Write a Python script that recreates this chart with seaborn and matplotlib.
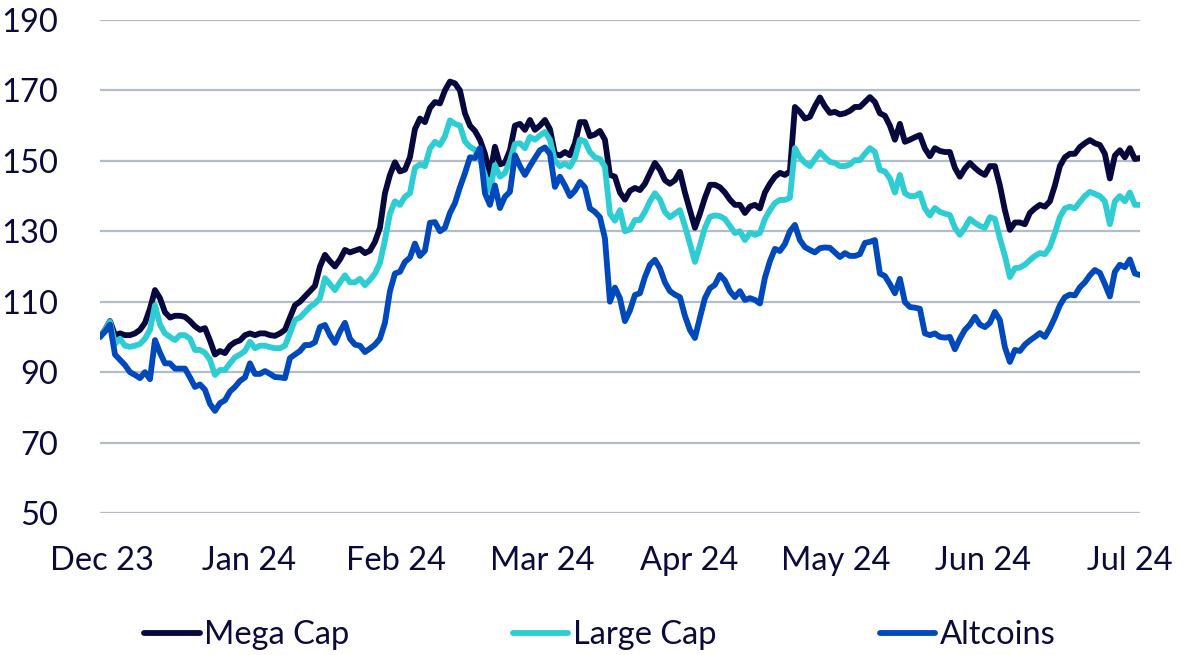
import numpy as np
import pandas as pd
import matplotlib
matplotlib.use("Agg")
import matplotlib.pyplot as plt
import seaborn as sns

# ---------------- data (index = 100 at start) ----------------
mega_cap = [
    100, 102, 104.5, 100.5, 101, 100.5, 100.5, 101, 102, 104,
    108, 113.3, 111, 107, 105.5, 106, 106, 105.7, 104.5, 103,
    102, 102.5, 99, 95, 96, 95.4, 97.5, 98.5, 99, 100.5,
    101, 100.5, 101, 101, 100.5, 100.3, 101, 102, 105.5, 109,
    110, 111.5, 113, 114.5, 120, 123.3, 121.5, 120, 122, 124.7,
    124, 124.5, 125, 123.8, 124.5, 127, 131, 140.8, 146, 149.6,
    147, 147.5, 151, 159, 162, 161, 165, 166.7, 166.3, 170,
    172.5, 172, 170, 163.5, 160, 158.5, 156, 152, 146, 154,
    149, 149.5, 153, 160, 160.5, 158.8, 161.6, 158.8, 160, 161.6,
    159, 152, 151.5, 152.5, 151.6, 155, 161, 161, 157, 157.5,
    158.5, 156, 146, 145.5, 141, 139, 141.5, 142.3, 141.7, 143.5,
    146.5, 149.4, 147.5, 144.5, 143.5, 144.5, 146.9, 141, 136, 131,
    135, 139.5, 143.2, 143.2, 142.5, 141, 139, 137.5, 137.5, 135.2,
    137, 137.5, 136.5, 141, 143.5, 145.5, 146.6, 146, 147, 165.3,
    163.9, 162, 162.5, 165.5, 168, 165.5, 163.6, 163.9, 163.2, 163.5,
    164.2, 165.3, 165.3, 166.7, 168.1, 166.7, 163.5, 162.8, 160, 156,
    160.5, 155.4, 156, 156.7, 157.3, 153.5, 151.3, 153.6, 152.8, 152.5,
    152.5, 148, 145.5, 147.8, 149.4, 148, 146.8, 146, 148.5, 148.5,
    143, 136, 130.4, 132.5, 132.5, 132, 135.2, 136.5, 137.5, 137,
    138.5, 143, 148.5, 151, 152, 152, 153.9, 155, 155.9, 155,
    154.5, 152, 145, 151.5, 153, 151, 153.6, 150.5, 150.8,
]

large_cap = [
    100, 102, 104.3, 98, 99.5, 97.5, 97.2, 97.5, 98, 99.5,
    102, 109, 103.5, 101, 100, 99.1, 100.5, 100.5, 99.5, 96.3,
    96.3, 95.5, 93.5, 89.2, 90.6, 90.6, 92.5, 94.2, 95, 96,
    98.6, 96.8, 97.5, 97.5, 97.1, 96.8, 96.8, 97.5, 101, 104.8,
    105.5, 107, 108.5, 109.5, 111, 116.7, 115, 113.3, 115.5, 117.5,
    115.5, 115.5, 116.5, 114.7, 116.2, 118, 121, 127.5, 135, 138.5,
    137.5, 139.8, 140.8, 148, 149, 148.5, 153.5, 155.4, 154.5, 157,
    161.5, 160.5, 160, 155.5, 154, 153.2, 150.5, 146, 141.5, 148.8,
    145.5, 146.5, 150, 154.8, 155, 153.6, 156.8, 156, 157.2, 158.2,
    156, 150, 148.5, 149.2, 148.3, 150.8, 156, 155.5, 152.5, 151,
    150.5, 148.3, 135, 133, 136, 130, 130.5, 133.2, 133.2, 135.5,
    138.5, 140.8, 139, 135.5, 134, 135, 136, 131.5, 126.5, 121.3,
    126, 131, 134.1, 134.5, 134.3, 133.5, 131.5, 129.5, 130, 127.5,
    129.5, 129, 129.5, 133.5, 136, 138, 138.9, 138.9, 139.5, 153.6,
    151, 149.5, 148.5, 150.5, 152.5, 151, 149.7, 149.4, 148.5, 148.5,
    149, 150.2, 150.2, 152, 153.6, 152.5, 147.4, 147, 145, 141,
    146, 140.8, 140, 140, 140.8, 136.5, 134.5, 136.6, 135.5, 135,
    134.6, 131, 129, 131, 133.5, 132.4, 131.5, 131, 134, 133.5,
    128, 123, 117, 119.5, 119.7, 120.5, 121.8, 123, 123.8, 123.5,
    125.5, 129.5, 134, 136.5, 137, 136.5, 138.3, 140, 141.2, 140.6,
    140, 138.5, 132, 138.5, 140, 138.5, 141, 137.5, 137.5,
]

altcoins = [
    100, 101.5, 103.5, 95, 93.5, 92, 90, 89.2, 88.3, 90,
    88, 99.1, 95.5, 92.5, 92.5, 91, 91, 91, 88.5, 85.8,
    86.5, 85, 81, 79, 81.2, 82, 84.5, 85.8, 87.5, 88.5,
    92.5, 89.5, 89.5, 90.3, 89.5, 88.6, 88.5, 88.3, 94, 95,
    96, 97.7, 97.7, 98.5, 102.8, 103.4, 100.5, 98.3, 101.5, 104,
    99.5, 97.8, 97.5, 95.7, 96.7, 97.8, 99.5, 104, 113, 118,
    118.5, 121.3, 122.5, 126.5, 123, 124.5, 132.4, 132.6, 130, 131,
    135.2, 138, 142.5, 146.5, 151, 150.8, 153.6, 140.8, 137.5, 143,
    136.6, 139.8, 141.2, 151.6, 148.5, 146, 148.5, 150.8, 153, 153.8,
    152, 142.6, 145.5, 143, 140, 141.5, 144, 142.5, 136.5, 135.5,
    134, 128, 110, 114, 111, 104.5, 107.5, 111.9, 112.4, 117,
    120.5, 121.9, 119.5, 115.5, 113, 112, 111.3, 106, 102, 99.7,
    105.5, 111, 113.8, 114.8, 117.6, 116, 113, 111.3, 113, 110.5,
    111, 110.5, 109.5, 116.8, 121.5, 125, 124.4, 126.4, 130, 131.8,
    127.5, 125.5, 124.7, 124, 125.2, 125.4, 125.3, 124, 122.7, 123.8,
    123, 123, 123.5, 126.7, 127, 127.5, 118, 117.3, 115, 112.4,
    116.5, 109.9, 108.5, 108.3, 108, 101, 100.5, 101, 100, 99.8,
    100, 96.5, 99.5, 102, 103.5, 105.7, 103.5, 102.8, 104, 107.1,
    104.8, 97.1, 92.9, 96.3, 96, 97.8, 99, 100, 101.1, 100,
    102.5, 105.5, 109, 111.3, 112, 111.8, 114.1, 115.5, 117.5, 119,
    118.2, 115, 111.5, 118.5, 120.5, 119.8, 122, 118, 117.6,
]

series_names = ["Mega Cap", "Large Cap", "Altcoins"]
month_labels = ["Dec 23", "Jan 24", "Feb 24", "Mar 24", "Apr 24", "May 24", "Jun 24", "Jul 24"]
y_ticks = [50, 70, 90, 110, 130, 150, 170, 190]

colors = {"Mega Cap": "#07083d", "Large Cap": "#2ecdd3", "Altcoins": "#0049bd"}
text_color = "#0b0b3b"

# ---------------- build long table ----------------
frames = []
for name, vals in zip(series_names, [mega_cap, large_cap, altcoins]):
    frames.append(pd.DataFrame({"t": np.arange(len(vals)), "value": vals, "series": name}))
df = pd.concat(frames, ignore_index=True)
n_points = len(mega_cap)

sns.set_theme(style="white")
plt.rcParams["font.family"] = ["Lato", "DejaVu Sans"]

fig = plt.figure(figsize=(11.86, 6.55), dpi=100)
ax = fig.add_axes([0.0843, 0.2168, 0.9611 - 0.0843, 0.9695 - 0.2168])

sns.lineplot(data=df, x="t", y="value", hue="series", hue_order=series_names,
             palette=colors, linewidth=4.2, ax=ax, legend=True)

ax.set_xlim(0, n_points - 1)
ax.set_ylim(50, 190)
ax.set_yticks(y_ticks)
ax.set_yticklabels([str(v) for v in y_ticks])
tick_pos = np.linspace(0.4, n_points - 3, len(month_labels))
ax.set_xticks(tick_pos)
ax.set_xticklabels(month_labels)
ax.set_xlabel("")
ax.set_ylabel("")

ax.yaxis.grid(True, color="#b3bdc8", linewidth=1.6)
ax.xaxis.grid(False)
ax.set_axisbelow(True)
for s in ax.spines.values():
    s.set_visible(False)

ax.tick_params(axis="y", length=0, pad=30, labelsize=23.5, labelcolor=text_color)
ax.tick_params(axis="x", length=0, pad=24, labelsize=23.5, labelcolor=text_color)

sns.move_legend(ax, "center", bbox_to_anchor=(0.506, 0.03), bbox_transform=fig.transFigure,
                ncol=3, frameon=False, title=None, fontsize=23.5,
                handlelength=1.7, handletextpad=0.15, columnspacing=5.0)
leg = ax.get_legend()
for t in leg.get_texts():
    t.set_color(text_color)
for h in leg.get_lines():
    h.set_linewidth(4.2)

fig.savefig("out.png", dpi=100)
